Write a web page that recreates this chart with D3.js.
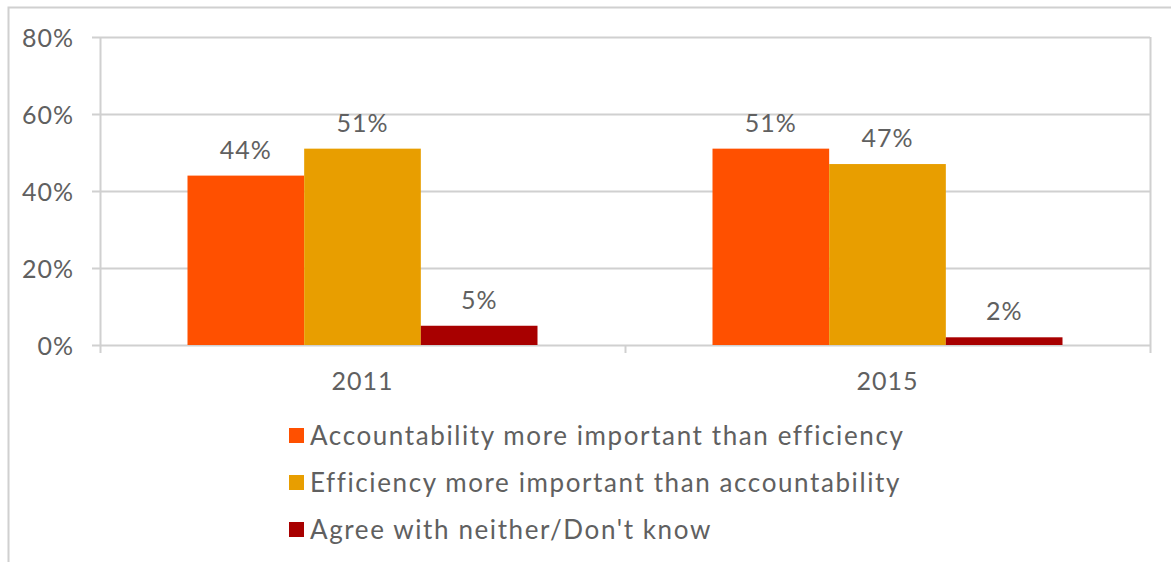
<!DOCTYPE html>
<html>
<head>
<meta charset="utf-8">
<script src="https://cdn.jsdelivr.net/npm/d3@7"></script>
<style>
  html, body { margin: 0; padding: 0; background: #fff; }
  svg { display: block; }
  text { font-family: "Lato", "Noto Sans", sans-serif; fill: #606060; }
</style>
</head>
<body>
<svg id="chart" width="1171" height="562"></svg>
<script>
const categories = ["2011", "2015"];
const seriesNames = [
  "Accountability more important than efficiency",
  "Efficiency more important than accountability",
  "Agree with neither/Don't know"
];
const accountability = [44, 51];
const efficiency = [51, 47];
const neither = [5, 2];
const yTicks = [0, 20, 40, 60, 80];
const colors = ["#FF5000", "#E89E00", "#A80000"];

const seriesValues = [accountability, efficiency, neither];

const svg = d3.select("#chart");
const plot = { left: 100, right: 1150, top: 37, bottom: 345 };

// outer frame (top and left edges)
svg.append("path")
  .attr("d", "M8.5,562 V7.5 H1171")
  .attr("fill", "none").attr("stroke", "#d0d0d0").attr("stroke-width", 2);

const x0 = d3.scaleBand().domain(categories).range([plot.left, plot.right]);
const x1 = d3.scaleBand().domain(d3.range(seriesNames.length))
  .range([0, x0.bandwidth()]).paddingOuter(0.75).paddingInner(0);
const y = d3.scaleLinear().domain([0, 80]).range([plot.bottom, plot.top]);

// gridlines
svg.append("g").selectAll("line").data(yTicks).join("line")
  .attr("x1", plot.left - 8).attr("x2", plot.right)
  .attr("y1", d => Math.round(y(d)) + 0.5).attr("y2", d => Math.round(y(d)) + 0.5)
  .attr("stroke", "#d0d0d0").attr("stroke-width", 2);

// vertical axis line and right border
svg.append("line").attr("x1", plot.left + 0.5).attr("x2", plot.left + 0.5)
  .attr("y1", plot.top).attr("y2", plot.bottom + 8)
  .attr("stroke", "#d0d0d0").attr("stroke-width", 2);
svg.append("line").attr("x1", plot.right + 0.5).attr("x2", plot.right + 0.5)
  .attr("y1", plot.top).attr("y2", plot.bottom + 8)
  .attr("stroke", "#d0d0d0").attr("stroke-width", 2);
// category divider tick
svg.append("line").attr("x1", x0("2015") + 0.5).attr("x2", x0("2015") + 0.5)
  .attr("y1", plot.bottom).attr("y2", plot.bottom + 8)
  .attr("stroke", "#d0d0d0").attr("stroke-width", 2);

const labelSize = 25;
const spacing = 1;

// y tick labels
svg.append("g").selectAll("text").data(yTicks).join("text")
  .attr("x", 74).attr("y", d => y(d) + 10)
  .attr("text-anchor", "end").attr("font-size", labelSize)
  .attr("letter-spacing", spacing)
  .text(d => d + "%");

// bars and value labels
const groups = svg.append("g").selectAll("g").data(categories).join("g")
  .attr("transform", d => `translate(${x0(d)},0)`);

groups.each(function(cat, ci) {
  const g = d3.select(this);
  seriesValues.forEach((vals, si) => {
    const v = vals[ci];
    g.append("rect")
      .attr("x", x1(si)).attr("width", x1.bandwidth())
      .attr("y", y(v)).attr("height", y(0) - y(v))
      .attr("fill", colors[si]);
    g.append("text")
      .attr("x", x1(si) + x1.bandwidth() / 2)
      .attr("y", y(v) - 17)
      .attr("text-anchor", "middle").attr("font-size", labelSize)
      .attr("letter-spacing", spacing)
      .text(v + "%");
  });
});

// category labels
svg.append("g").selectAll("text").data(categories).join("text")
  .attr("x", d => x0(d) + x0.bandwidth() / 2)
  .attr("y", 390)
  .attr("text-anchor", "middle").attr("font-size", labelSize)
  .attr("letter-spacing", spacing)
  .text(d => d);

// legend
const legend = svg.append("g").selectAll("g").data(seriesNames).join("g")
  .attr("transform", (d, i) => `translate(289,${428 + i * 47})`);
legend.append("rect").attr("width", 15).attr("height", 15)
  .attr("fill", (d, i) => colors[i]);
legend.append("text").attr("x", 21).attr("y", 17)
  .attr("font-size", 26).attr("letter-spacing", 1.6)
  .text(d => d);
</script>
</body>
</html>
